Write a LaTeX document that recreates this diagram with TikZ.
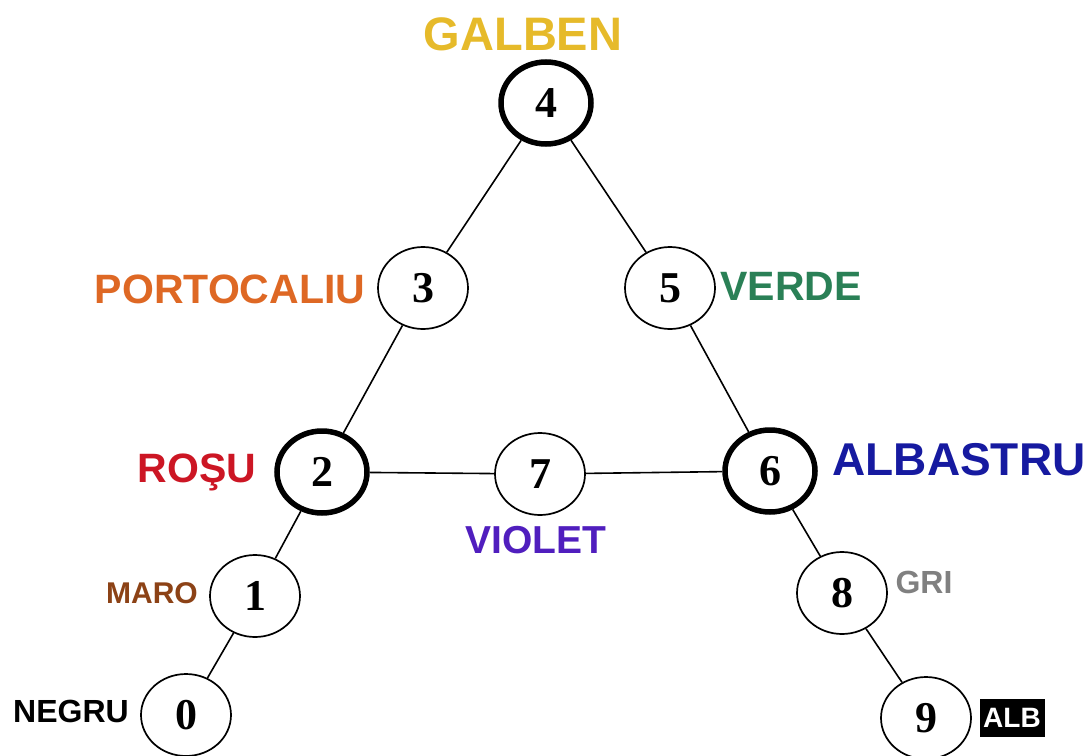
\documentclass[tikz,border=0pt]{standalone}
\usepackage{fontspec}
\setmainfont{Liberation Serif}
\setsansfont{Liberation Sans}
\usetikzlibrary{shapes.geometric}

\definecolor{galben}{RGB}{230,186,42}
\definecolor{portocaliu}{RGB}{222,104,36}
\definecolor{verde}{RGB}{42,128,86}
\definecolor{rosu}{RGB}{204,22,36}
\definecolor{violet}{RGB}{80,30,190}
\definecolor{albastru}{RGB}{22,26,160}
\definecolor{maro}{RGB}{140,66,22}
\definecolor{gri}{RGB}{128,128,128}

\tikzset{
    nod/.style={ellipse, draw, line width=1.7pt, minimum width=90pt,
        minimum height=82pt, inner sep=0pt,
        font=\bfseries\fontsize{44}{44}\selectfont},
    nodgros/.style={nod, line width=5.5pt},
    eticheta/.style={anchor=base, inner sep=0pt,
        font=\sffamily\bfseries\fontsize{#1}{#1}\selectfont},
}

\begin{document}
\begin{tikzpicture}[x=1pt, y=-1pt]
        \useasboundingbox (0, 0) rectangle (1092, 755);

        % varfurile
        \node[nodgros] (n4) at (546, 103) {4};
        \node[nod] (n3) at (423, 288) {3};
        \node[nod] (n5) at (670, 288) {5};
        \node[nodgros] (n2) at (322, 472) {2};
        \node[nod] (n7) at (540, 474) {7};
        \node[nodgros] (n6) at (770, 471) {6};
        \node[nod] (n1) at (255, 596) {1};
        \node[nod] (n8) at (842, 593) {8};
        \node[nod] (n0) at (186, 715) {0};
        \node[nod] (n9) at (926, 718) {9};

        % muchiile
        \draw[line width=1.6pt] (n4) -- (n3) -- (n2) -- (n1) -- (n0);
        \draw[line width=1.6pt] (n4) -- (n5) -- (n6) -- (n8) -- (n9);
        \draw[line width=1.6pt] (n2) -- (n7) -- (n6);

        % culorile
        \node[eticheta=47, galben] (galben) at (523, 50) {GALBEN};
        \node[eticheta=41, portocaliu] (portocaliu) at (230, 303) {PORTOCALIU};
        \node[eticheta=41, verde] (verde) at (791, 300) {VERDE};
        \node[eticheta=41, rosu] (rosu) at (197, 482) {ROŞU};
        \node[eticheta=39, violet] (violet) at (536, 553) {VIOLET};
        \node[eticheta=46, albastru] (albastru) at (959, 475) {ALBASTRU};
        \node[eticheta=30, maro] (maro) at (152, 603) {MARO};
        \node[eticheta=32, gri] (gri) at (924, 593) {GRI};
        \node[eticheta=32] (negru) at (71, 722) {NEGRU};
        \node[fill=black, text=white, inner sep=0pt, minimum width=65pt,
            minimum height=38pt, font=\sffamily\bfseries\fontsize{28}{28}\selectfont]
            (alb) at (1012, 718) {ALB};

    \end{tikzpicture}
\end{document}
